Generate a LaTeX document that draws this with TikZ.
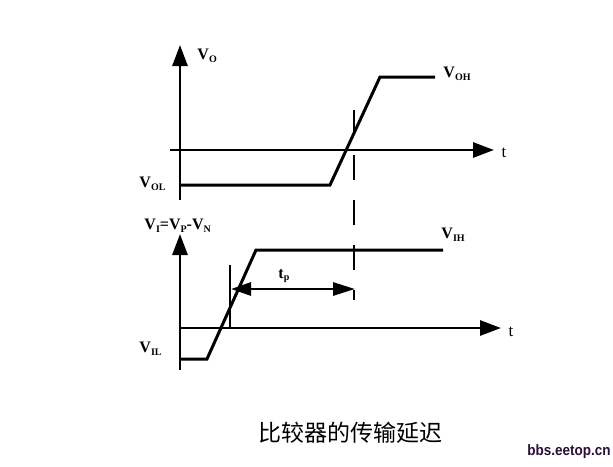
\documentclass[tikz,border=0pt]{standalone}
\usepackage{fontspec}
\setmainfont{Liberation Serif}
\newfontfamily\cjk{Noto Sans CJK SC}
\newfontfamily\wmk{Liberation Sans}
\usetikzlibrary{arrows.meta}
\newcommand\sbs[1]{{\fontsize{10}{10}\selectfont\raisebox{-2.5pt}{#1}}}
\begin{document}
\begin{tikzpicture}[x=1pt,y=-1pt,line width=2.9pt,
  axis/.style={-{Triangle[length=21pt,width=15pt]}},
  wave/.style={line width=3pt},
  lbl/.style={font=\bfseries\fontsize{16}{16}\selectfont,inner sep=0pt},
  tlbl/.style={font=\fontsize{17}{17}\selectfont,inner sep=0pt},
  dashv/.style={line width=2.9pt,dash pattern=on 25pt off 20pt}]
\useasboundingbox[fill=white] (0,0) rectangle (613,466);
% upper plot
\coordinate (oy0) at (180,200);
\coordinate (oy1) at (180,45);
\coordinate (ox0) at (170,150);
\coordinate (ox1) at (494,150);
\draw[axis] (oy0) -- (oy1);
\draw[axis] (ox0) -- (ox1);
\coordinate (o1) at (180,185);
\coordinate (o2) at (330,185);
\coordinate (o3) at (380,77);
\coordinate (o4) at (435,77);
\draw[wave] (o1) -- (o2) -- (o3) -- (o4);
\node[lbl,anchor=west] (vo) at (196,56) {V\sbs{O}};
\node[lbl,anchor=west] (voh) at (442,74) {V\sbs{OH}};
\node[lbl,anchor=west] (vol) at (138,184) {V\sbs{OL}};
\node[tlbl] (t1) at (504,153) {t};
% dashed line
\coordinate (d0) at (354,110);
\coordinate (d1) at (354,300);
\draw[dashv] (d0) -- (d1);
% lower plot
\coordinate (iy0) at (180,370);
\coordinate (iy1) at (180,234);
\coordinate (ix0) at (180,328);
\coordinate (ix1) at (501,328);
\draw[axis] (iy0) -- (iy1);
\draw[axis] (ix0) -- (ix1);
\coordinate (i1) at (180,359);
\coordinate (i2) at (207,359);
\coordinate (i3) at (256,250);
\coordinate (i4) at (443,250);
\draw[wave] (i1) -- (i2) -- (i3) -- (i4);
\coordinate (m0) at (230,265);
\coordinate (m1) at (230,328);
\draw (m0) -- (m1);
\coordinate (tpl) at (231,289);
\coordinate (tpr) at (355,289);
\draw[{Triangle[length=20pt,width=13pt]}-{Triangle[length=22pt,width=13pt]}] (tpl) -- (tpr);
\node[lbl,anchor=west] (tp) at (277,276) {t\sbs{p}};
\node[lbl,anchor=west] (vi) at (143,226) {V\sbs{I}=V\sbs{P}-V\sbs{N}};
\node[lbl,anchor=west] (vih) at (440,235) {V\sbs{IH}};
\node[lbl,anchor=west] (vil) at (138,349) {V\sbs{IL}};
\node[tlbl] (t2) at (511,332) {t};
% captions
\node[inner sep=0pt,font=\cjk\fontsize{23}{23}\selectfont] (cap) at (350,433) {比较器的传输延迟};
\definecolor{wmcol}{HTML}{2A0F38}
\node[inner sep=0pt,text=wmcol,font=\wmk\bfseries\fontsize{15}{15}\selectfont,xscale=0.9] (wm) at (569,452) {bbs.eetop.cn};
\end{tikzpicture}
\end{document}
